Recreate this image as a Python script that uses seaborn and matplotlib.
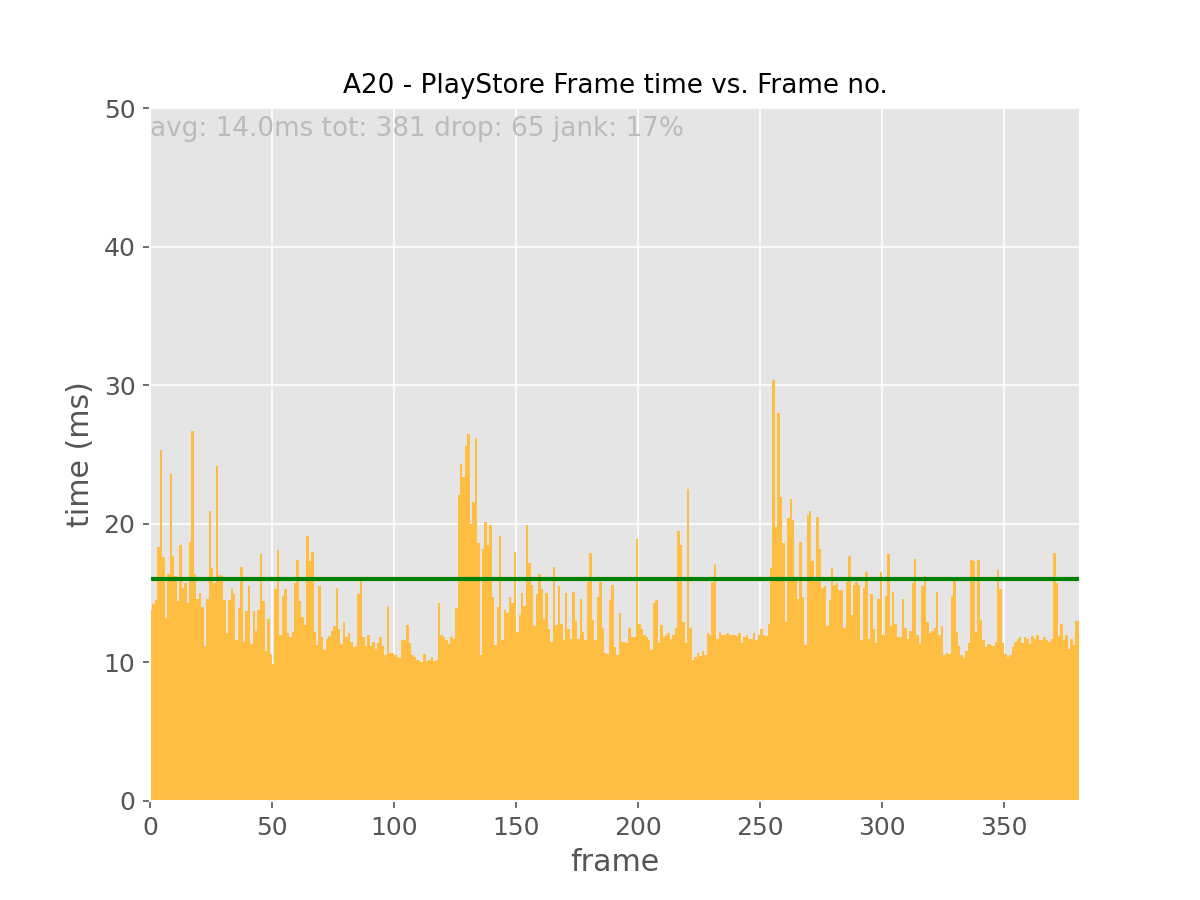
import numpy as np
import pandas as pd
import matplotlib
matplotlib.use("Agg")
import matplotlib.pyplot as plt
import seaborn as sns

plt.style.use("ggplot")
plt.rcParams["font.size"] = 12
plt.rcParams["font.family"] = ["DejaVu Sans"]

# frame render times in ms (381 frames)
frame_times = [
    13.8, 14.2, 14.5, 18.3, 25.3, 17.6, 13.2, 16.4, 23.6, 17.7, 16.2, 14.4, 18.5, 15.4, 15.7, 14.3,
    18.7, 26.7, 16.4, 14.6, 15.0, 14.0, 11.2, 14.6, 20.9, 16.8, 15.7, 24.2, 16.3, 16.2, 14.5, 12.1,
    14.5, 15.4, 14.9, 11.6, 13.9, 16.9, 11.5, 13.7, 15.5, 11.3, 13.7, 12.3, 13.8, 17.8, 14.4, 10.8,
    13.1, 10.6, 9.9, 15.3, 18.1, 12.0, 14.8, 15.3, 12.1, 11.8, 12.2, 15.7, 17.4, 14.4, 13.3, 12.7,
    19.1, 17.3, 18.0, 12.2, 11.25, 15.5, 11.8, 10.9, 11.7, 11.9, 12.3, 12.6, 15.4, 12.4, 11.3, 12.9,
    11.8, 12.1, 11.5, 11.1, 11.2, 14.9, 15.9, 11.85, 11.2, 12.0, 11.2, 11.5, 11.0, 11.4, 11.85, 11.2,
    10.5, 14.1, 10.7, 10.65, 10.5, 10.4, 10.3, 11.6, 11.6, 12.7, 11.4, 10.5, 10.4, 10.2, 10.1, 10.0,
    10.6, 10.1, 10.2, 10.4, 10.1, 10.2, 14.25, 12.0, 11.85, 11.6, 11.3, 11.8, 11.7, 13.9, 22.1, 24.3,
    23.4, 25.6, 26.5, 20.0, 21.6, 26.2, 18.6, 10.5, 18.2, 20.1, 18.5, 19.9, 14.7, 11.25, 14.0, 19.1,
    11.6, 13.8, 13.6, 14.7, 14.3, 18.0, 12.2, 13.4, 15.0, 14.1, 19.9, 17.2, 15.6, 12.6, 14.9, 16.4,
    15.3, 13.1, 15.0, 12.4, 11.5, 16.9, 12.7, 15.5, 12.8, 11.6, 15.0, 12.4, 11.7, 15.1, 13.0, 11.7,
    14.6, 12.2, 11.6, 15.8, 17.9, 13.05, 11.6, 14.7, 15.8, 12.5, 10.65, 10.6, 14.5, 15.6, 11.1, 10.5,
    13.6, 11.5, 11.45, 11.4, 12.5, 11.85, 11.8, 18.9, 12.8, 12.4, 12.0, 11.8, 11.6, 10.9, 14.3, 14.5,
    11.4, 12.7, 11.85, 12.0, 12.1, 11.7, 12.0, 12.5, 19.5, 18.5, 12.9, 11.4, 22.5, 12.5, 10.2, 10.4,
    10.65, 10.45, 10.8, 10.55, 12.1, 12.0, 15.8, 17.1, 11.7, 12.2, 12.0, 12.0, 12.1, 11.95, 12.0, 12.0,
    11.9, 12.1, 11.4, 11.85, 12.0, 11.7, 11.7, 12.1, 11.6, 12.0, 12.4, 11.95, 11.9, 12.8, 16.8, 30.4,
    19.8, 28.0, 21.9, 18.6, 12.9, 20.4, 21.8, 20.3, 15.9, 14.6, 18.7, 14.7, 11.25, 20.6, 20.9, 17.3,
    15.9, 20.5, 18.2, 15.4, 15.5, 12.6, 14.5, 16.8, 15.6, 15.7, 15.2, 15.2, 12.5, 15.8, 17.7, 13.4,
    15.6, 15.8, 15.6, 11.6, 15.4, 16.5, 11.7, 14.9, 12.4, 11.4, 14.6, 16.5, 12.0, 14.8, 17.8, 12.6,
    15.1, 12.8, 11.8, 11.8, 14.6, 12.5, 11.7, 12.3, 15.7, 17.45, 12.0, 11.3, 15.5, 16.2, 12.9, 12.1,
    12.3, 12.5, 15.1, 12.0, 12.6, 10.5, 10.65, 10.6, 14.8, 15.9, 12.2, 11.2, 10.5, 10.3, 10.8, 11.4,
    17.4, 17.3, 12.2, 17.4, 13.05, 11.6, 11.1, 11.3, 11.25, 11.2, 11.5, 16.7, 15.3, 11.4, 10.6, 10.4,
    10.5, 11.1, 11.5, 11.7, 11.8, 11.4, 11.8, 11.7, 11.3, 11.9, 11.7, 12.0, 11.6, 11.6, 11.85, 11.6,
    11.5, 11.7, 17.9, 15.7, 11.9, 12.8, 11.6, 12.0, 11.0, 11.7, 11.25, 13.0, 13.0,
]

threshold_ms = 16
stats_text = "avg: 14.0ms tot: 381 drop: 65 jank: 17%"
title = "A20 - PlayStore Frame time vs. Frame no."

df = pd.DataFrame({"frame": np.arange(len(frame_times)), "time": frame_times})

fig, ax = plt.subplots(figsize=(8, 6), dpi=150)
sns.histplot(data=df, x="frame", weights="time",
             binwidth=1, binrange=(0, len(frame_times)),
             color="#ffbe42", alpha=1, edgecolor="none", linewidth=0, ax=ax)
ax.axhline(threshold_ms, color="green", lw=2)

ax.set_xlim(0, len(frame_times))
ax.set_ylim(0, 50)
ax.set_title(title, fontsize=12.6, pad=7)
ax.set_xlabel("frame")
ax.set_ylabel("time (ms)")
ax.text(0, 49.4, stats_text, color="#bbbbbb", ha="left", va="top", fontsize=12.6)

fig.savefig("out.png", dpi=150)
